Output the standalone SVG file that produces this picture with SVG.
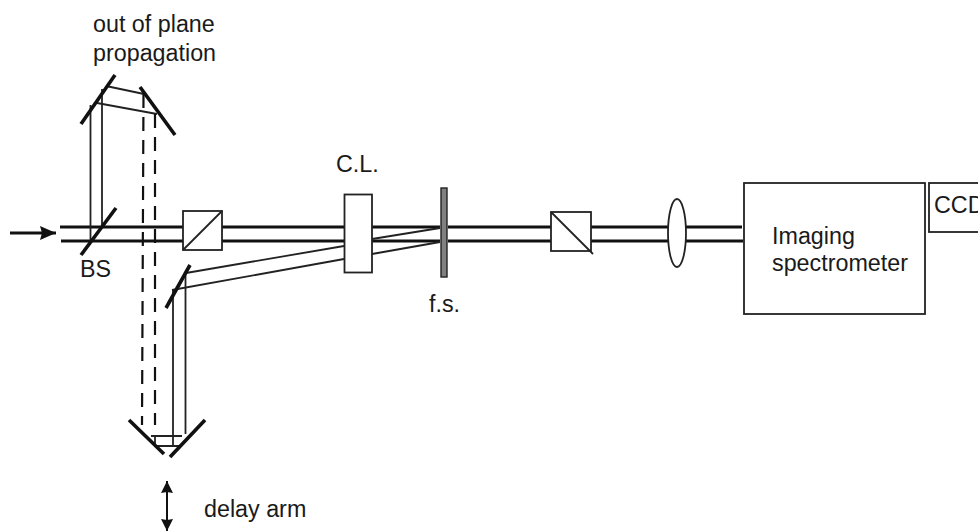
<svg xmlns="http://www.w3.org/2000/svg" width="978" height="531" viewBox="0 0 978 531">
<style>
text{font-family:"Liberation Sans",Arial,sans-serif;font-size:23.300px;fill:#1a1a1a}
.beam{fill:none;stroke:#111;stroke-width:3.2}
.thin{fill:none;stroke:#222;stroke-width:1.8}
.mirror{fill:none;stroke:#111;stroke-width:3.6}
.dash{fill:none;stroke:#111;stroke-width:2.2;stroke-dasharray:14 9}
.box{fill:#fff;stroke:#222;stroke-width:1.8}
</style>
<defs>
<marker id="ah" markerUnits="userSpaceOnUse" markerWidth="17" markerHeight="14" refX="16" refY="7" orient="auto"><path d="M0 0L16 7L0 14L2 7Z" fill="#111"/></marker>
<marker id="ah2" markerUnits="userSpaceOnUse" markerWidth="13" markerHeight="12" refX="12" refY="6" orient="auto-start-reverse"><path d="M0 0L12 6L0 12L1 6Z" fill="#111"/></marker>
</defs>
<rect width="978" height="531" fill="#fff"/>
<g id="connectors">
<path class="beam" d="M60 227H440M448 227H742M61 241H440M448 241H743"/>
<path class="thin" d="M90.500 241V105M102 227V89"/>
<path class="thin" d="M106 86L144 94M97 103L157 114"/>
<path class="dash" d="M143.500 94L142 425M155 114V425"/>
<path class="thin" d="M186 273L344 246M172 290L344 259M372 239L440 228M372 254L440 242"/>
<path class="thin" d="M173 290V446H180M185.500 273V434M151 436H182M155 436V446H173"/>
<path d="M10 233H56" fill="none" stroke="#111" stroke-width="3" marker-end="url(#ah)"/>
<path d="M167 481V531" fill="none" stroke="#111" stroke-width="2" marker-start="url(#ah2)" marker-end="url(#ah2)"/>
</g>
<g id="mirror-top-left"><path class="mirror" d="M81 124L115 75"/></g>
<g id="mirror-top-right"><path class="mirror" d="M140 87L175 135"/></g>
<g id="beam-splitter"><path class="mirror" d="M81 255L116 208"/><text x="80" y="277">BS</text></g>
<g id="mirror-delay"><path class="mirror" d="M166 308L190 265"/></g>
<g id="retro"><path class="mirror" d="M129 420L164 454M205 420L170 457"/></g>
<g id="polarizer-1"><rect class="box" x="183" y="211" width="39" height="39"/><path class="thin" d="M183 250L222 211"/></g>
<g id="cl"><rect class="box" x="344.500" y="194.500" width="27.500" height="78"/><text x="336" y="172">C.L.</text></g>
<g id="fs"><rect x="441" y="188" width="6" height="89" fill="#808080" stroke="#222" stroke-width="1.400"/><text x="429" y="312">f.s.</text></g>
<g id="polarizer-2"><rect class="box" x="551" y="212" width="40" height="39"/><path class="thin" d="M551 212L593 254"/></g>
<g id="lens"><ellipse class="box" cx="677" cy="233" rx="9" ry="34"/></g>
<g id="spectrometer"><rect class="box" x="744" y="183" width="181" height="131"/><text x="772" y="243.500">Imaging</text><text x="772" y="271">spectrometer</text></g>
<g id="ccd"><rect class="box" x="929" y="183" width="60" height="49"/><text x="934" y="213">CCD</text></g>
<g id="label-oop"><text x="93" y="32">out of plane</text><text x="93" y="61">propagation</text></g>
<g id="label-delay"><text x="204" y="517">delay arm</text></g>
</svg>
